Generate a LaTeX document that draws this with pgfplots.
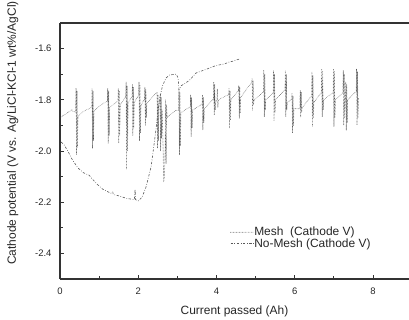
\documentclass[border=0pt]{standalone}
\usepackage{fontspec}
\setmainfont{Liberation Sans}
\usepackage{pgfplots}
\pgfplotsset{compat=1.18}
\begin{document}
\begin{tikzpicture}[x=1bp,y=1bp]
\useasboundingbox (0,0) rectangle (409,320);
\begin{axis}[
  at={(60bp,41bp)}, anchor=south west,
  scale only axis, width=349bp, height=256bp,
  xmin=0, xmax=8.92, ymin=-2.5, ymax=-1.5,
  axis lines=left,
  axis line style={line width=1.3pt, black!80, -},
  tick align=inside,
  tick style={line width=0.8pt, black!80},
  major tick length=4bp, minor tick length=2.5bp,
  xtick={0,2,4,6,8}, minor xtick={1,3,5,7},
  ytick={-2.4,-2.2,-2.0,-1.8,-1.6}, minor ytick={-2.3,-2.1,-1.9,-1.7},
  /pgf/number format/assume math mode=true,
  ticklabel style={font=\fontsize{9.5}{10}\selectfont, black!85},
  yticklabel style={/pgf/number format/fixed, /pgf/number format/fixed zerofill, /pgf/number format/precision=1, xshift=-5bp},
  xticklabel style={yshift=-5.5bp},
  xlabel={Current passed (Ah)},
  ylabel={Cathode potential (V vs. Ag/LiCl-KCl-1 wt\%/AgCl)},
  label style={font=\fontsize{12}{14}\selectfont, black!85},
  xlabel style={at={(axis description cs:0.5,-0.128)}, anchor=center},
  ylabel style={at={(axis description cs:-0.135,0.57)}, anchor=center},
  legend style={at={(rel axis cs:0.487,0.205)}, anchor=north west, draw=none, fill=none,
    font=\fontsize{12}{12}\selectfont, text=black!85, inner sep=0pt, row sep=0.5pt,
    nodes={inner sep=0.4bp}, cells={anchor=west}},
  legend image code/.code={\draw[#1] (0bp,0bp) -- (23bp,0bp);},
]
\addplot[black!72, line width=0.7pt, line join=round, line cap=round, dash pattern=on 0pt off 1.5pt] coordinates {
(0,-1.87) (0.1,-1.86) (0.25,-1.845) (0.3,-1.838) (0.33,-1.845) (0.39,-1.848)
(0.4,-1.848)(0.41,-1.755)(0.422,-2.015)(0.434,-1.765)(0.446,-1.985)(0.46,-1.865)
(0.6,-1.845)(0.8,-1.83)
(0.81,-1.83)(0.82,-1.755)(0.832,-1.99)(0.844,-1.765)(0.856,-1.96)(0.87,-1.845)
(1.0,-1.825)(1.2,-1.805)
(1.21,-1.805)(1.22,-1.755)(1.232,-1.97)(1.244,-1.765)(1.256,-1.94)(1.27,-1.83)
(1.45,-1.808)
(1.48,-1.805)(1.49,-1.755)(1.502,-1.97)(1.514,-1.765)(1.526,-1.94)(1.54,-1.82)
(1.67,-1.79)
(1.68,-1.79)(1.69,-1.73)(1.702,-2.07)(1.714,-1.745)(1.726,-2.0)(1.74,-1.81)
(1.83,-1.792)
(1.84,-1.79)(1.85,-1.74)(1.862,-1.94)(1.874,-1.75)(1.886,-1.91)(1.9,-1.81)
(2.0,-1.785)
(2.01,-1.783)(2.02,-1.73)(2.032,-1.96)(2.044,-1.745)(2.056,-1.93)(2.07,-1.82)
(2.15,-1.80)
(2.16,-1.798)(2.17,-1.75)(2.182,-1.90)(2.194,-1.76)(2.206,-1.87)(2.22,-1.815)
(2.35,-1.79)(2.45,-1.775)
(2.47,-1.775)(2.48,-1.77)(2.492,-1.99)(2.504,-1.78)(2.516,-1.96)(2.53,-1.82)
(2.55,-1.81)(2.56,-1.78)(2.572,-2.0)(2.584,-1.79)(2.596,-1.95)(2.61,-1.84)
(2.63,-1.95)(2.65,-2.12)(2.67,-2.10)(2.69,-1.98)(2.7,-1.80)(2.712,-2.05)(2.724,-1.82)(2.74,-1.87)(2.76,-1.865)
(2.95,-1.842)
(3.03,-1.84)(3.04,-1.757)(3.052,-2.016)(3.064,-1.77)(3.076,-1.98)(3.09,-1.85)
(3.3,-1.83)
(3.33,-1.828)(3.34,-1.78)(3.352,-1.944)(3.364,-1.79)(3.376,-1.91)(3.39,-1.84)
(3.6,-1.82)
(3.63,-1.818)(3.64,-1.78)(3.652,-1.918)(3.664,-1.79)(3.676,-1.89)(3.69,-1.835)
(3.9,-1.80)
(3.92,-1.80)(3.93,-1.73)(3.942,-1.86)(3.954,-1.74)(3.966,-1.84)(3.98,-1.81)
(4.01,-1.80)(4.02,-1.757)(4.034,-1.83)(4.05,-1.80)
(4.3,-1.78)
(4.31,-1.78)(4.32,-1.757)(4.332,-1.912)(4.344,-1.765)(4.356,-1.88)(4.37,-1.80)
(4.55,-1.765)
(4.56,-1.765)(4.57,-1.744)(4.582,-1.873)(4.594,-1.75)(4.606,-1.85)(4.62,-1.79)
(4.88,-1.735)
(4.9,-1.733)(4.91,-1.718)(4.922,-1.84)(4.934,-1.725)(4.946,-1.82)(4.96,-1.80)
(5.18,-1.772)
(5.2,-1.77)(5.21,-1.685)(5.222,-1.867)(5.234,-1.70)(5.246,-1.84)(5.26,-1.80)
(5.43,-1.775)
(5.45,-1.773)(5.46,-1.685)(5.472,-1.88)(5.484,-1.70)(5.496,-1.85)(5.51,-1.80)
(5.72,-1.765)
(5.75,-1.763)(5.76,-1.685)(5.772,-1.867)(5.784,-1.70)(5.796,-1.84)(5.81,-1.81)
(5.9,-1.80)
(5.92,-1.80)(5.93,-1.776)(5.942,-1.93)(5.954,-1.785)(5.966,-1.90)(5.98,-1.835)
(6.1,-1.835)
(6.13,-1.835)(6.14,-1.763)(6.152,-1.867)(6.164,-1.77)(6.176,-1.85)(6.19,-1.83)
(6.4,-1.79)
(6.43,-1.788)(6.44,-1.692)(6.452,-1.905)(6.464,-1.705)(6.476,-1.87)(6.49,-1.81)
(6.66,-1.775)
(6.68,-1.773)(6.69,-1.679)(6.702,-1.867)(6.714,-1.69)(6.726,-1.84)(6.74,-1.80)
(6.95,-1.775)
(6.98,-1.773)(6.99,-1.679)(7.002,-1.905)(7.014,-1.69)(7.026,-1.87)(7.04,-1.80)
(7.22,-1.775)
(7.23,-1.773)(7.24,-1.685)(7.252,-1.90)(7.264,-1.70)(7.276,-1.87)(7.29,-1.79)
(7.295,-1.79)(7.305,-1.731)(7.317,-1.92)(7.329,-1.74)(7.341,-1.89)(7.35,-1.80)
(7.55,-1.77)
(7.57,-1.77)(7.58,-1.679)(7.592,-1.899)(7.604,-1.69)(7.616,-1.87)(7.63,-1.795)
(7.65,-1.80)
};
\addlegendentry{Mesh\ \ (Cathode V)}
\addplot[black!65, line width=0.6pt, line join=round, dash pattern=on 2.4pt off 1.6pt on 0.7pt off 1.6pt] coordinates {
(0.03,-1.965) (0.1,-1.975) (0.2,-2.0) (0.3,-2.03) (0.45,-2.065) (0.6,-2.085) (0.75,-2.095)
(0.8,-2.105) (0.95,-2.13) (1.1,-2.15) (1.3,-2.165) (1.35,-2.16) (1.36,-2.17) (1.5,-2.175)
(1.7,-2.185) (1.9,-2.19) (1.92,-2.15) (1.93,-2.19) (2.0,-2.195) (2.1,-2.18) (2.2,-2.14)
(2.33,-2.06) (2.45,-1.92) (2.54,-1.80) (2.62,-1.745) (2.71,-1.715) (2.8,-1.703) (2.97,-1.70)
(3.02,-1.715) (3.04,-1.76) (3.1,-1.745) (3.3,-1.725) (3.48,-1.695) (3.7,-1.683) (3.99,-1.666)
(4.2,-1.66) (4.33,-1.652) (4.4,-1.65) (4.5,-1.645) (4.6,-1.64)
};
\addlegendentry{No-Mesh (Cathode V)}
\draw[line width=1.3pt, black!80] (rel axis cs:0,1) -- (rel axis cs:1,1);
\end{axis}
\end{tikzpicture}
\end{document}
